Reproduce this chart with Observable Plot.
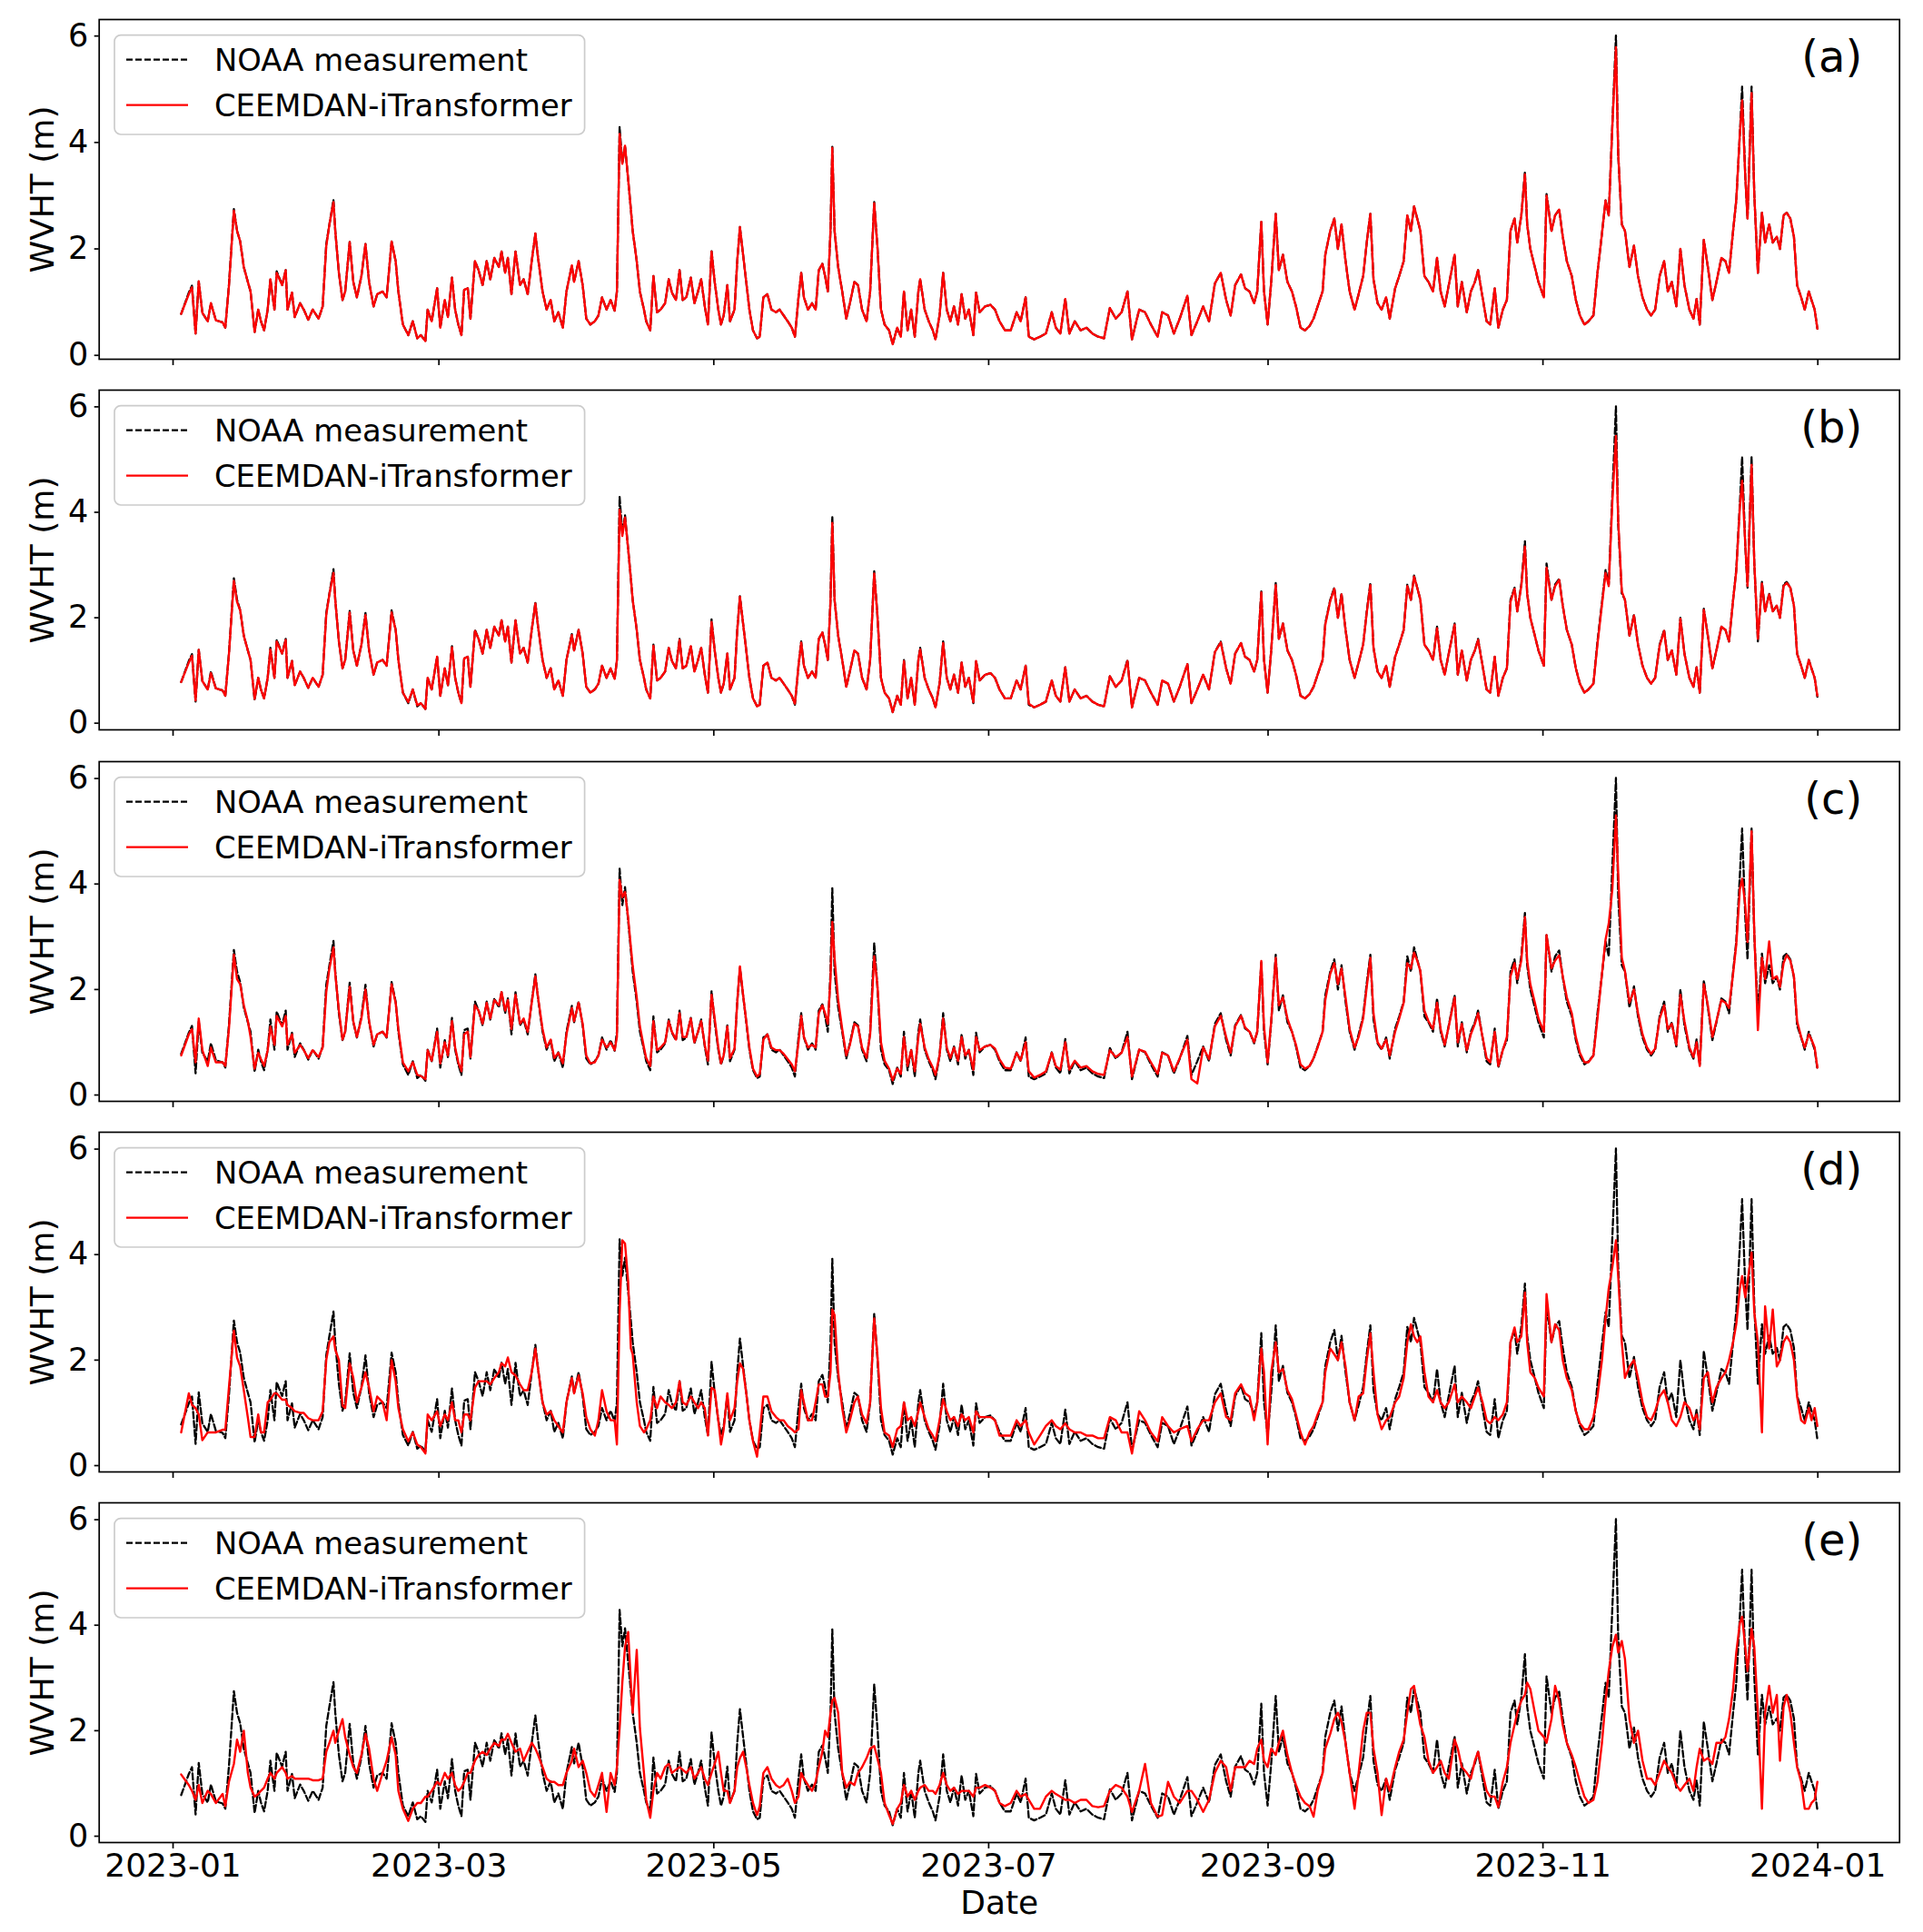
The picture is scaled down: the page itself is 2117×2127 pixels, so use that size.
<!DOCTYPE html>
<html>
<head>
<meta charset="utf-8">
<script src="https://cdn.jsdelivr.net/npm/d3@7"></script>
<script src="https://cdn.jsdelivr.net/npm/@observablehq/plot@0.6"></script>
<style>
  html, body { margin: 0; padding: 0; background: #ffffff; }
  #fig { position: relative; width: 2117px; height: 2127px; overflow: hidden; background: #ffffff;
         font-family: "DejaVu Sans", sans-serif; }
</style>
</head>
<body>
<div id="fig"></div>
<script>
// ---------------- DATA ----------------
// day offset from 2023-01-01 (UTC)
const days = [
1.8,3.5,4.2,5.0,5.7,6.5,7.7,8.4,9.5,11.0,11.6,12.4,13.5,14.2,14.9,15.7,16.6,17.2,18.1,18.9,
19.5,20.2,21.0,21.6,22.5,23.0,24.2,25.0,25.4,26.4,27.0,28.2,29.0,30.0,31.0,32.3,33.2,34.0,34.7,35.6,
36.0,36.8,37.6,38.2,39.2,40.0,40.8,41.8,42.7,43.5,44.5,45.3,46.5,47.4,48.5,49.4,50.0,51.0,52.2,53.2,
54.2,55.0,56.0,56.5,57.4,58.6,59.3,60.3,61.0,61.9,62.6,63.3,64.0,64.6,65.4,66.0,67.0,67.8,68.7,69.6,
70.4,71.3,72.3,72.9,73.7,74.3,75.1,76.0,77.0,77.8,78.7,79.6,80.4,81.0,82.0,82.9,83.8,84.6,85.5,86.5,
87.3,88.5,89.0,90.0,90.9,91.7,92.6,93.6,94.4,95.2,96.2,97.1,98.0,98.5,99.1,99.7,100.3,101.0,101.6,102.0,
102.9,103.6,104.5,105.0,105.9,106.6,107.4,108.2,109.2,110.0,110.7,111.6,112.4,113.1,113.9,114.9,115.7,116.5,117.2,118.0,
118.7,119.5,120.2,121.0,121.6,122.2,123.0,123.6,124.6,125.2,125.8,126.5,127.2,127.9,128.7,129.6,130.2,131.0,131.9,132.8,
133.8,134.6,135.5,136.4,137.3,138.0,138.8,139.4,140.0,140.9,141.8,142.6,143.3,144.1,144.7,145.3,145.9,146.3,146.8,147.6,
148.5,149.4,150.2,151.2,152.0,152.9,153.9,154.7,155.6,156.3,157.1,157.9,158.9,159.7,160.7,161.5,162.2,163.0,163.8,164.6,
165.4,165.8,166.8,167.7,168.6,169.2,170.1,170.9,171.7,172.5,173.3,174.2,175.0,175.8,176.6,177.6,178.2,179.0,180.2,181.4,
182.4,183.4,184.6,185.9,187.2,188.1,189.2,189.9,191.1,192.4,193.7,195.0,195.9,196.9,198.0,198.9,200.1,201.4,202.7,204.0,
205.3,206.6,207.9,209.2,210.5,211.8,212.8,214.4,215.7,217.0,218.5,219.5,220.8,222.1,223.4,225.1,226.0,227.3,228.6,229.9,
231.2,232.5,233.7,234.7,235.7,237.0,237.9,238.9,239.9,240.6,241.5,242.1,242.9,243.7,244.7,245.4,246.3,247.3,248.3,249.2,
250.2,251.2,252.2,253.1,254.0,255.1,255.7,256.8,257.7,258.5,259.3,260.2,261.1,262.2,263.1,264.1,264.9,265.7,266.4,267.3,
268.2,269.2,270.0,271.2,272.1,273.1,273.9,274.7,275.4,276.1,276.8,277.7,278.6,279.6,280.5,281.3,282.2,283.1,284.4,285.1,
286.0,287.1,288.0,288.9,289.6,290.6,291.5,292.3,293.3,294.1,295.1,296.0,296.8,297.7,298.3,299.2,300.0,300.5,301.2,302.2,
303.0,304.2,304.8,305.9,306.7,307.6,308.4,309.3,310.4,311.3,312.2,313.2,314.1,315.2,316.1,317.1,317.9,318.6,319.4,320.2,
320.7,321.5,322.2,323.2,324.2,325.1,326.1,327.1,328.0,328.9,329.9,330.9,331.7,332.6,333.6,334.5,335.4,336.5,337.4,338.1,
338.8,339.7,340.6,341.6,342.5,343.6,344.5,345.3,346.2,346.9,347.7,348.2,348.9,349.4,350.3,350.9,351.7,352.6,353.3,354.2,
355.0,355.9,356.6,357.4,358.1,358.9,359.7,360.4,361.3,362.1,363.0,363.6,364.3,364.9
];

// NOAA measurement (black dashed), WVHT in m
const noaa = [
.78,1.18,1.31,.41,1.39,.80,.64,.98,.66,.62,.52,1.32,2.75,2.34,2.14,1.66,1.38,1.20,.44,.86,
.64,.47,.86,1.43,.86,1.58,1.32,1.60,.86,1.18,.72,.98,.86,.67,.86,.69,.92,2.09,2.46,2.92,
2.34,1.55,1.04,1.20,2.13,1.38,1.09,1.49,2.09,1.38,.92,1.15,1.20,1.09,2.14,1.77,1.20,.58,.38,.64,
.32,.38,.27,.86,.64,1.26,.52,1.04,.72,1.46,.86,.58,.38,1.23,1.26,.69,1.77,1.60,1.32,1.77,
1.43,1.83,1.66,1.95,1.55,1.83,1.15,1.95,1.32,1.43,1.15,1.77,2.29,1.83,1.20,.86,1.04,.64,.81,.52,
1.20,1.69,1.38,1.77,1.32,.69,.58,.64,.75,1.09,.86,1.04,.84,1.20,4.29,3.60,3.94,3.30,2.74,2.34,
1.77,1.20,.86,.64,.47,1.49,.81,.86,.98,1.43,1.18,1.04,1.60,1.04,1.09,1.46,.98,1.20,1.43,.92,
.58,1.97,1.38,.86,.58,.75,1.32,.64,.86,1.77,2.41,1.89,1.38,.86,.47,.32,.35,1.09,1.15,.86,
.81,.86,.75,.64,.52,.35,1.09,1.55,1.09,.86,.98,.86,1.60,1.72,1.49,1.20,2.34,3.92,2.34,1.66,
1.20,.69,.98,1.38,1.32,.86,.64,1.20,2.88,2.06,.86,.58,.47,.21,.52,.35,1.20,.47,.86,.35,
1.20,1.43,.86,.64,.47,.30,.75,1.55,.86,.64,.92,.58,1.15,.69,.86,.38,1.18,.81,.92,.95,
.86,.64,.47,.47,.81,.64,1.09,.35,.30,.35,.41,.81,.52,.41,1.06,.41,.64,.47,.52,.41,
.35,.32,.89,.69,.81,1.20,.30,.86,.81,.58,.35,.81,.75,.41,.69,1.12,.38,.64,.92,.64,
1.35,1.55,1.04,.75,1.32,1.52,1.26,1.20,.98,1.20,2.51,1.20,.58,1.38,2.66,1.60,1.89,1.38,1.20,.92,
.52,.47,.55,.69,.92,1.20,1.89,2.34,2.57,2.00,2.46,1.77,1.20,.86,1.15,1.49,2.12,2.66,1.43,.98,
.86,1.09,.69,1.26,1.49,1.77,2.63,2.34,2.80,2.57,2.34,1.49,1.38,1.20,1.83,1.20,.92,1.32,1.89,.92,
1.38,.81,1.20,1.38,1.60,1.09,.64,.58,1.26,.52,.86,1.04,2.34,2.57,2.12,2.63,3.45,2.46,2.00,1.66,
1.38,1.09,3.03,2.34,2.63,2.74,2.23,1.77,1.49,1.04,.75,.58,.64,.75,1.55,2.29,2.91,2.63,4.33,6.01,
3.77,2.46,2.34,1.66,2.06,1.49,1.09,.86,.75,.86,1.49,1.77,1.20,1.38,.92,2.00,1.32,.86,.69,1.06,
.58,2.17,1.66,1.04,1.38,1.83,1.77,1.55,2.34,2.91,4.16,5.05,3.37,2.57,5.05,3.03,1.55,2.68,2.12,2.46,
2.12,2.23,2.00,2.63,2.68,2.57,2.23,1.32,1.09,.86,1.20,1.04,.86,.50
];

// CEEMDAN-iTransformer prediction (red) in each panel
const predA = [
.78,1.15,1.28,.41,1.39,.80,.64,.98,.66,.62,.52,1.30,2.72,2.34,2.14,1.66,1.38,1.20,.44,.86,
.64,.47,.86,1.43,.86,1.55,1.32,1.60,.86,1.18,.72,.98,.86,.67,.86,.69,.92,2.05,2.46,2.88,
2.34,1.55,1.04,1.20,2.13,1.38,1.09,1.49,2.09,1.38,.92,1.15,1.20,1.09,2.14,1.77,1.20,.58,.38,.64,
.32,.38,.27,.86,.64,1.26,.52,1.04,.72,1.46,.86,.58,.38,1.23,1.26,.69,1.77,1.60,1.32,1.77,
1.43,1.83,1.66,1.95,1.55,1.83,1.15,1.95,1.32,1.43,1.15,1.77,2.29,1.83,1.20,.86,1.04,.64,.81,.52,
1.20,1.69,1.38,1.77,1.32,.69,.58,.64,.75,1.09,.86,1.04,.84,1.20,4.16,3.60,3.94,3.30,2.74,2.34,
1.77,1.20,.86,.64,.47,1.49,.81,.86,.98,1.43,1.18,1.04,1.60,1.04,1.09,1.46,.98,1.20,1.43,.92,
.58,1.95,1.38,.86,.58,.75,1.32,.64,.86,1.77,2.41,1.89,1.38,.86,.47,.32,.35,1.09,1.15,.86,
.81,.86,.75,.64,.52,.35,1.09,1.55,1.09,.86,.98,.86,1.60,1.72,1.49,1.20,2.34,3.90,2.34,1.66,
1.20,.69,.98,1.38,1.32,.86,.64,1.20,2.86,2.06,.86,.58,.47,.21,.52,.35,1.20,.47,.86,.35,
1.20,1.43,.86,.64,.47,.30,.75,1.55,.86,.64,.92,.58,1.15,.69,.86,.38,1.18,.81,.92,.95,
.86,.64,.47,.47,.81,.64,1.09,.35,.30,.35,.41,.81,.52,.41,1.06,.41,.64,.47,.52,.41,
.35,.32,.89,.69,.81,1.20,.30,.86,.81,.58,.35,.81,.75,.41,.69,1.12,.38,.64,.92,.64,
1.35,1.55,1.04,.75,1.32,1.52,1.26,1.20,.98,1.20,2.51,1.20,.58,1.38,2.66,1.60,1.89,1.38,1.20,.92,
.52,.47,.55,.69,.92,1.20,1.89,2.34,2.57,2.00,2.46,1.77,1.20,.86,1.15,1.49,2.12,2.66,1.43,.98,
.86,1.09,.69,1.26,1.49,1.77,2.63,2.34,2.80,2.57,2.34,1.49,1.38,1.20,1.83,1.20,.92,1.32,1.89,.92,
1.38,.81,1.20,1.38,1.60,1.09,.64,.58,1.26,.52,.86,1.04,2.34,2.57,2.12,2.63,3.40,2.46,2.00,1.66,
1.38,1.09,3.00,2.34,2.63,2.74,2.23,1.77,1.49,1.04,.75,.58,.64,.75,1.55,2.29,2.91,2.63,4.30,5.79,
3.80,2.46,2.34,1.66,2.06,1.49,1.09,.86,.75,.86,1.49,1.77,1.20,1.38,.92,2.00,1.32,.86,.69,1.06,
.58,2.17,1.66,1.04,1.38,1.83,1.77,1.55,2.34,2.91,4.16,4.79,3.37,2.57,4.93,3.03,1.55,2.68,2.12,2.46,
2.12,2.23,2.00,2.63,2.68,2.57,2.23,1.32,1.09,.86,1.20,1.04,.86,.50
];
const predB = [
.78,1.15,1.28,.43,1.39,.80,.64,.95,.66,.62,.52,1.30,2.70,2.30,2.14,1.66,1.38,1.20,.46,.86,
.64,.47,.86,1.40,.86,1.55,1.32,1.58,.86,1.18,.72,.98,.86,.67,.86,.69,.92,2.05,2.45,2.85,
2.34,1.55,1.04,1.20,2.10,1.38,1.09,1.49,2.05,1.38,.92,1.15,1.20,1.09,2.10,1.77,1.20,.58,.40,.64,
.34,.38,.27,.86,.64,1.26,.52,1.04,.72,1.44,.86,.58,.38,1.23,1.26,.69,1.75,1.60,1.32,1.77,
1.43,1.83,1.66,1.95,1.55,1.83,1.15,1.95,1.32,1.43,1.15,1.77,2.27,1.83,1.20,.86,1.04,.64,.81,.52,
1.20,1.67,1.38,1.77,1.32,.69,.58,.64,.75,1.09,.86,1.04,.84,1.20,4.05,3.55,3.90,3.30,2.74,2.34,
1.77,1.20,.86,.64,.47,1.47,.81,.86,.98,1.43,1.18,1.04,1.58,1.04,1.09,1.46,.98,1.20,1.43,.92,
.58,1.92,1.38,.86,.58,.75,1.32,.64,.86,1.75,2.40,1.89,1.38,.86,.47,.32,.35,1.09,1.15,.86,
.81,.86,.75,.64,.52,.37,1.09,1.53,1.09,.86,.98,.86,1.60,1.72,1.49,1.20,2.30,3.80,2.34,1.66,
1.20,.69,.98,1.38,1.32,.86,.64,1.20,2.84,2.06,.86,.58,.47,.21,.52,.35,1.18,.47,.86,.35,
1.20,1.40,.86,.64,.47,.30,.75,1.52,.86,.64,.92,.58,1.15,.69,.86,.40,1.18,.81,.92,.95,
.86,.64,.47,.47,.81,.64,1.09,.37,.30,.35,.41,.81,.52,.41,1.06,.41,.64,.47,.52,.41,
.35,.32,.89,.69,.81,1.18,.30,.86,.81,.58,.35,.81,.75,.41,.69,1.12,.38,.64,.92,.64,
1.35,1.53,1.04,.75,1.32,1.52,1.26,1.20,.98,1.20,2.48,1.20,.58,1.38,2.62,1.60,1.89,1.38,1.20,.92,
.52,.47,.55,.69,.92,1.20,1.87,2.32,2.55,2.00,2.44,1.77,1.20,.86,1.15,1.49,2.10,2.62,1.43,.98,
.86,1.09,.69,1.26,1.49,1.77,2.60,2.34,2.78,2.57,2.34,1.49,1.38,1.20,1.80,1.20,.92,1.32,1.87,.92,
1.38,.81,1.20,1.38,1.58,1.09,.64,.58,1.26,.52,.86,1.04,2.30,2.55,2.12,2.60,3.35,2.46,2.00,1.66,
1.38,1.09,2.95,2.34,2.60,2.72,2.23,1.77,1.49,1.04,.75,.58,.64,.75,1.50,2.25,2.85,2.60,4.20,5.45,
3.85,2.50,2.34,1.66,2.04,1.49,1.09,.86,.75,.86,1.47,1.75,1.20,1.38,.92,1.98,1.32,.86,.69,1.06,
.58,2.15,1.66,1.04,1.38,1.83,1.77,1.55,2.34,2.88,4.10,4.60,3.40,2.60,4.90,3.05,1.60,2.65,2.12,2.44,
2.12,2.23,2.00,2.60,2.66,2.57,2.23,1.32,1.09,.86,1.20,1.04,.86,.52
];
const predC = [
.75,1.15,1.25,.62,1.45,.85,.55,.90,.62,.62,.55,1.25,2.66,2.20,2.10,1.70,1.40,1.10,.50,.80,
.68,.55,.85,1.30,.95,1.50,1.30,1.50,.95,1.15,.80,.95,.85,.70,.85,.72,.90,1.95,2.40,2.80,
2.30,1.60,1.05,1.20,2.05,1.40,1.10,1.45,2.00,1.40,.95,1.15,1.20,1.10,2.10,1.75,1.25,.62,.45,.62,
.38,.36,.30,.85,.65,1.20,.60,1.00,.75,1.40,.90,.62,.45,1.15,1.20,.72,1.70,1.60,1.35,1.75,
1.45,1.80,1.70,1.95,1.60,1.80,1.25,1.90,1.35,1.45,1.20,1.75,2.25,1.85,1.25,.90,1.05,.70,.80,.60,
1.15,1.65,1.40,1.75,1.35,.75,.60,.62,.75,1.05,.90,1.00,.85,1.10,4.08,3.75,3.85,3.35,2.80,2.45,
1.85,1.30,.90,.70,.55,1.40,.85,.90,1.00,1.40,1.20,1.05,1.55,1.10,1.10,1.45,1.00,1.20,1.40,.95,
.65,1.90,1.45,.90,.60,.75,1.30,.70,.88,1.75,2.44,1.90,1.40,.90,.50,.35,.40,1.05,1.15,.90,
.85,.85,.78,.68,.58,.45,1.00,1.50,1.10,.90,.95,.90,1.55,1.70,1.55,1.35,2.20,3.28,2.60,1.80,
1.25,.75,.95,1.35,1.30,.90,.70,1.15,2.63,2.10,1.00,.65,.50,.28,.50,.40,1.10,.55,.85,.45,
1.10,1.35,.90,.68,.52,.38,.75,1.45,.90,.70,.90,.65,1.10,.75,.85,.48,1.10,.85,.92,.95,
.88,.68,.52,.50,.80,.66,1.00,.45,.33,.38,.45,.80,.55,.48,1.00,.48,.65,.52,.55,.45,
.40,.38,.85,.72,.80,1.10,.35,.86,.82,.62,.40,.80,.75,.45,.70,1.05,.30,.22,.90,.68,
1.30,1.50,1.10,.80,1.30,1.50,1.28,1.20,1.00,1.20,2.54,1.30,.62,1.40,2.60,1.70,1.85,1.45,1.20,.95,
.58,.50,.55,.70,.90,1.20,1.80,2.30,2.50,2.10,2.40,1.85,1.25,.90,1.10,1.45,2.05,2.60,1.55,1.00,
.88,1.05,.75,1.20,1.45,1.75,2.50,2.40,2.70,2.55,2.35,1.60,1.40,1.25,1.75,1.25,.95,1.30,1.85,1.00,
1.35,.85,1.15,1.35,1.55,1.10,.70,.62,1.20,.55,.85,1.10,2.25,2.50,2.20,2.55,3.37,2.55,2.10,1.75,
1.45,1.20,3.03,2.40,2.55,2.65,2.25,1.85,1.55,1.10,.80,.62,.62,.75,1.45,2.30,2.95,3.25,3.90,5.30,
4.20,2.60,2.35,1.75,2.00,1.55,1.15,.90,.78,.88,1.45,1.70,1.25,1.35,.95,1.90,1.40,.90,.72,1.00,
.55,2.10,1.70,1.10,1.40,1.80,1.75,1.65,2.30,2.85,3.90,4.10,3.60,2.90,5.00,3.10,1.23,2.60,2.20,2.91,
2.20,2.25,2.05,2.50,2.65,2.55,2.25,1.40,1.10,.90,1.15,1.05,.90,.52
];
const predD = [
.63,1.37,1.15,1.09,.97,.48,.63,.63,.63,.68,.68,1.48,2.56,2.05,1.88,1.43,.91,.54,.54,.97,
.63,.63,1.20,1.25,1.37,1.37,1.25,1.25,1.15,1.09,1.03,1.00,1.00,.90,.86,.86,1.03,2.00,2.34,2.45,
2.20,2.00,1.14,1.09,1.94,1.66,1.20,1.48,1.77,1.48,1.03,1.31,1.20,.86,2.00,1.60,1.09,.69,.46,.63,
.40,.35,.23,.97,.86,1.03,.75,.97,.86,1.20,.86,.86,.63,.97,.97,.86,1.48,1.60,1.60,1.60,
1.54,1.66,1.77,1.94,1.88,2.05,1.77,1.71,1.54,1.43,1.43,1.77,2.22,1.83,1.20,.97,1.03,.86,.75,.63,
1.20,1.66,1.37,1.71,1.37,.92,.69,.57,.86,1.43,1.03,.86,.86,.40,2.91,4.27,4.21,3.48,2.22,2.11,
1.20,.75,.63,.69,.86,1.31,1.09,1.31,1.20,1.15,1.09,1.20,1.60,1.20,1.15,1.31,1.20,1.09,1.20,1.09,
.57,1.48,1.43,.86,.40,.69,1.37,.86,1.09,1.60,1.94,1.83,1.37,.86,.46,.17,.63,1.31,1.31,1.03,
.92,.86,.86,.75,.69,.63,.69,1.43,1.20,.86,.86,1.20,1.54,1.54,1.31,1.31,1.77,2.96,2.85,1.77,
1.09,.63,.86,1.20,1.31,.97,.80,1.20,2.79,2.11,1.09,.63,.57,.35,.69,.75,1.20,.86,.92,.75,
1.03,1.20,.92,.69,.57,.46,.86,1.26,1.03,.86,.92,.75,.97,.86,.92,.63,1.03,.92,.92,.92,
.86,.57,.57,.57,.86,.75,.86,.63,.40,.57,.75,.86,.75,.69,.80,.69,.63,.63,.57,.57,
.52,.52,.92,.86,.63,.63,.23,1.03,.86,.63,.46,.92,.75,.63,.69,.75,.46,.69,.86,.86,
1.20,1.37,.92,.86,1.37,1.54,1.37,1.31,.86,1.20,2.22,1.77,.40,1.77,2.34,1.77,1.83,1.43,1.26,.97,
.63,.40,.63,.75,.97,1.20,1.77,2.22,2.11,2.00,2.34,1.88,1.20,.86,1.31,1.37,2.00,2.51,1.77,.97,
.69,.86,.92,1.20,1.31,1.66,2.34,2.68,2.45,2.34,2.45,1.77,1.31,1.20,1.43,1.20,1.09,1.20,1.54,1.20,
1.31,1.20,1.09,1.31,1.48,1.20,.86,.80,.92,.86,.97,1.20,2.34,2.62,2.34,2.45,3.28,2.34,1.77,1.66,
1.48,1.31,3.25,2.34,2.68,2.57,2.00,1.66,1.43,1.03,.80,.69,.69,.92,1.31,2.00,2.79,3.36,3.76,4.27,
3.59,2.34,1.66,1.88,2.00,1.66,1.20,.92,.86,1.03,1.31,1.43,1.20,.86,.75,.92,1.20,1.09,.86,.97,
.69,1.66,1.77,1.20,1.48,1.66,1.77,2.00,2.34,2.68,3.36,3.59,3.19,3.48,4.04,2.91,2.34,.63,3.02,2.22,
2.96,1.88,2.00,2.34,2.45,2.34,2.00,1.31,.86,.80,1.09,.86,1.09,.75
];
const predE = [
1.17,.97,.86,.69,.97,.63,.86,.80,.63,.80,.57,1.03,1.37,1.83,1.60,2.00,1.20,.92,.75,.80,
.86,.92,1.09,1.20,1.09,1.20,1.31,1.20,1.09,1.14,1.09,1.09,1.09,1.09,1.06,1.06,1.09,1.60,1.77,2.00,
1.77,2.00,2.22,1.88,1.54,1.31,1.20,1.54,1.94,1.66,1.09,.86,1.20,1.43,1.88,1.54,.86,.52,.29,.52,
.63,.63,.75,.75,.86,1.03,.97,1.20,1.09,1.20,.97,.86,.92,1.03,1.20,1.20,1.43,1.54,1.60,1.54,
1.66,1.77,1.71,1.83,1.83,1.94,1.77,1.60,1.66,1.43,1.60,1.77,1.66,1.54,1.31,1.09,1.03,1.03,.97,.97,
1.20,1.43,1.66,1.31,1.43,1.20,.86,.75,.97,1.20,.46,1.20,.97,1.31,2.05,2.91,3.59,3.87,2.91,2.34,
3.53,2.05,1.20,.69,.35,.86,1.20,1.09,1.31,1.37,1.20,1.26,1.31,1.26,1.20,1.31,1.09,1.20,1.31,1.09,
.97,1.20,1.37,1.60,1.20,.86,.86,.63,.86,1.31,1.48,1.60,1.31,.97,.63,.40,.57,1.20,1.31,1.09,
.97,.92,.97,1.09,.86,.63,.75,1.20,1.09,.97,.86,1.03,1.31,1.60,2.00,1.88,2.34,2.57,2.62,2.34,
1.20,.92,1.03,.97,1.20,1.31,1.48,1.66,1.71,1.48,1.20,.63,.40,.23,.52,.63,.97,.75,.86,.69,
.86,.92,.97,.86,.86,.80,.97,1.20,.97,.86,.92,.80,.86,.86,.86,.75,.92,.92,.97,.92,
.86,.63,.57,.63,.86,.75,.80,.69,.52,.52,.75,.86,.80,.75,.69,.69,.63,.69,.69,.57,
.55,.57,.86,.97,.92,.75,.46,.86,1.37,.63,.37,.40,1.03,.75,.63,.86,.86,.69,.46,.69,
1.20,1.43,1.31,.86,1.31,1.31,1.31,1.43,1.37,1.66,1.83,1.43,1.31,1.66,1.54,1.77,2.00,1.54,1.20,.97,
.75,.63,.57,.37,.86,1.20,1.66,1.94,2.22,2.34,2.17,1.77,1.20,.52,1.20,2.00,2.34,2.34,1.66,1.20,
.40,1.09,.86,1.31,1.60,1.83,2.34,2.79,2.85,2.45,2.11,1.88,1.43,1.20,1.31,1.43,1.20,1.09,1.83,1.66,
1.31,1.20,1.09,1.43,1.60,1.20,.86,.75,.75,.55,1.03,1.31,1.77,2.11,2.34,2.57,2.68,2.91,2.79,2.34,
2.00,1.88,1.77,2.22,2.85,2.57,2.11,1.77,1.54,1.31,1.03,.75,.63,.69,1.03,1.77,2.57,3.13,3.59,3.82,
3.48,3.70,3.36,2.22,1.77,2.00,1.43,1.09,1.09,.97,1.20,1.43,1.31,1.20,.97,.86,.97,1.09,.86,1.31,
1.66,1.43,1.48,1.37,1.77,1.77,1.88,2.22,2.79,3.48,4.04,4.16,3.59,3.13,3.93,3.59,2.34,.52,2.34,2.85,
2.34,2.68,1.43,2.45,2.68,2.34,1.77,1.31,1.03,.52,.52,.63,.69,1.03
];

const panelLabels = ["(a)", "(b)", "(c)", "(d)", "(e)"];
const predictions = [predA, predB, predC, predD, predE];
const yDomains = [[-0.073, 6.31], [-0.126, 6.317], [-0.12, 6.32], [-0.12, 6.32], [-0.12, 6.32]];
const yTicks = [0, 2, 4, 6];
const xTickLabels = ["2023-01", "2023-03", "2023-05", "2023-07", "2023-09", "2023-11", "2024-01"];
const seriesNames = ["NOAA measurement", "CEEMDAN-iTransformer"];

// ---------------- LAYOUT ----------------
const W = 2117;
const ML = 108.7, MR = 26.3, MT = 20;
const FRAME_TOP0 = 20.7, STEP = 408.4, FRAME_H = 374;
const FONT = "'DejaVu Sans', sans-serif";
const DAY0 = Date.UTC(2023, 0, 1);
const dates = days.map(d => new Date(DAY0 + d * 864e5));
const xDomain = [new Date(Date.UTC(2022, 11, 15, 14, 38)), new Date(Date.UTC(2024, 0, 19, 3, 22))];
const xTicks = xTickLabels.map(s => new Date(s + "-01T00:00:00Z"));
const fmt = d3.utcFormat("%Y-%m");

const fig = document.getElementById("fig");

predictions.forEach((pred, k) => {
  const last = k === predictions.length - 1;
  const MB = last ? 110 : 14;
  const n = Math.min(dates.length, noaa.length, pred.length);
  const rows = d3.range(n).map(i => ({date: dates[i], noaa: noaa[i], pred: pred[i]}));

  const svg = Plot.plot({
    width: W,
    height: MT + FRAME_H + MB,
    marginLeft: ML, marginRight: MR, marginTop: MT, marginBottom: MB,
    style: {fontFamily: FONT, background: "transparent", color: "black", overflow: "visible"},
    x: {type: "utc", domain: xDomain},
    y: {domain: yDomains[k]},
    marks: [
      Plot.line(rows, {x: "date", y: "noaa", stroke: "black", strokeWidth: 2.3, strokeDasharray: "7,3"}),
      Plot.line(rows, {x: "date", y: "pred", stroke: "#ff0000", strokeWidth: 2.4}),
      Plot.frame({stroke: "black", strokeWidth: 1.7}),
      Plot.axisY({ticks: yTicks, tickSize: 5, tickPadding: 7, fontSize: 35, label: null, strokeWidth: 1.7, tickFormat: d => String(d)}),
      Plot.axisX({ticks: xTicks, tickSize: 7, tickPadding: 5, fontSize: 36, label: null, strokeWidth: 1.7,
                  tickFormat: last ? fmt : () => ""}),
      Plot.text(["WVHT (m)"], {text: d => d, frameAnchor: "left", dx: -62, rotate: -90, fontSize: 36,
                               textAnchor: "middle", lineAnchor: "middle", fill: "black"}),
      Plot.text([panelLabels[k]], {text: d => d, frameAnchor: "top-right", dx: -41, dy: 42.5, fontSize: 48,
                                   textAnchor: "end", lineAnchor: "middle", fill: "black"}),
      last ? Plot.text(["Date"], {text: d => d, frameAnchor: "bottom", dy: 67, fontSize: 36,
                                  lineAnchor: "middle", fill: "black"}) : null
    ]
  });
  svg.style.position = "absolute";
  svg.style.left = "0px";
  svg.style.top = (FRAME_TOP0 + STEP * k - MT) + "px";

  // legend (matplotlib-style box, upper left)
  const g = d3.select(svg).append("g").attr("font-family", FONT).attr("text-anchor", "start");
  g.append("rect").attr("x", 126).attr("y", MT + 17.6).attr("width", 517.6).attr("height", 109.4)
    .attr("rx", 7).attr("fill", "white").attr("fill-opacity", 0.8)
    .attr("stroke", "#cccccc").attr("stroke-width", 1.7);
  const styles = [
    {stroke: "black", dash: "7,3", lineY: 44.7, textY: 56.6},
    {stroke: "#ff0000", dash: null, lineY: 94.7, textY: 106.6}
  ];
  styles.forEach((s, j) => {
    g.append("line").attr("x1", 139).attr("x2", 207)
      .attr("y1", MT + s.lineY).attr("y2", MT + s.lineY)
      .attr("stroke", s.stroke).attr("stroke-width", 2.3)
      .attr("stroke-dasharray", s.dash);
    g.append("text").attr("x", 236).attr("y", MT + s.textY)
      .attr("text-anchor", "start")
      .attr("font-size", 33.8).attr("fill", "black").text(seriesNames[j]);
  });

  fig.appendChild(svg);
});
</script>
</body>
</html>
